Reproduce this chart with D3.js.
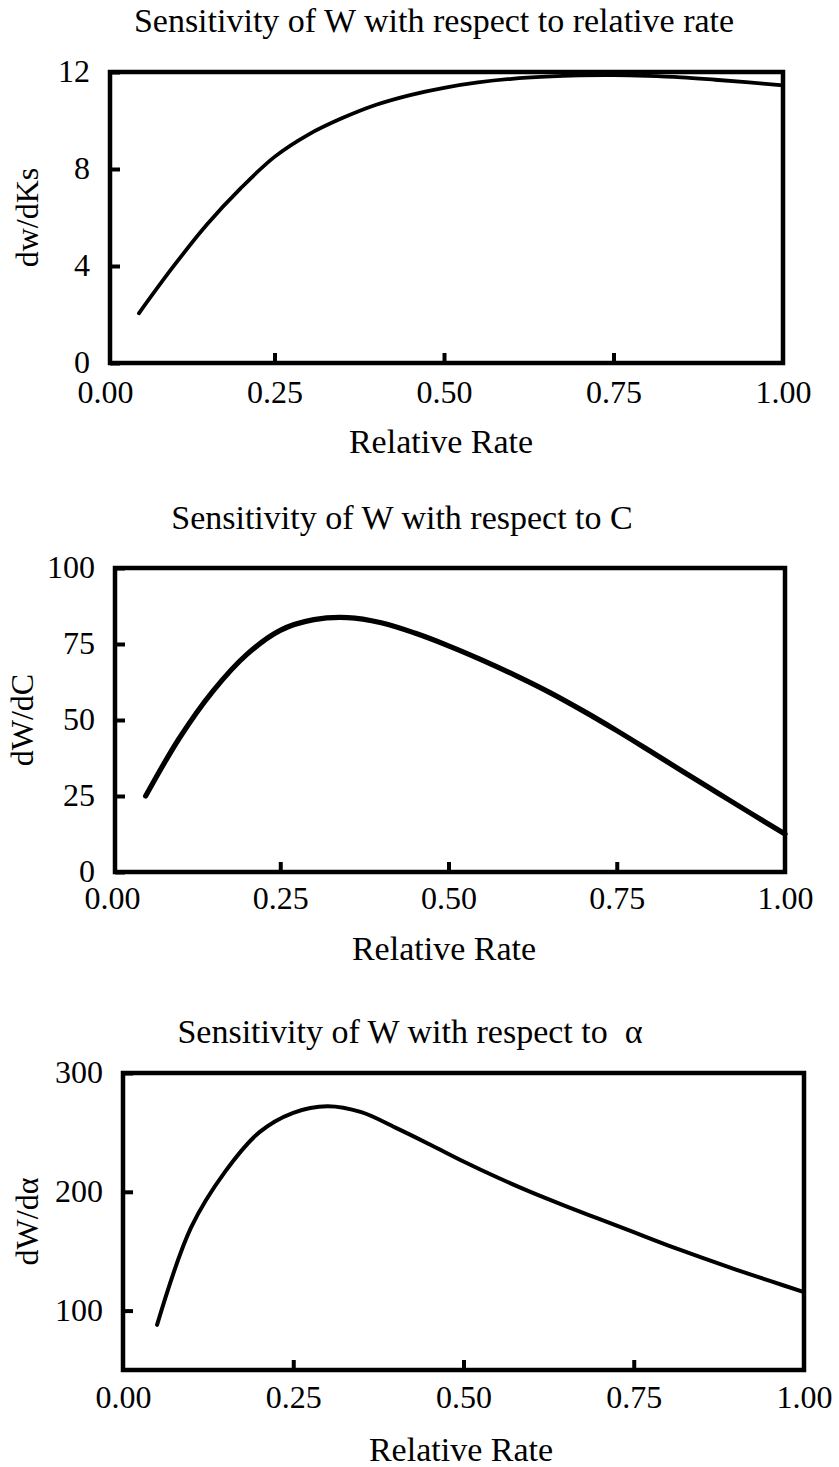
<!DOCTYPE html>
<html>
<head>
<meta charset="utf-8">
<script src="https://cdn.jsdelivr.net/npm/d3@7"></script>
<style>
  html, body { margin: 0; padding: 0; background: #fff; }
  svg { display: block; }
  text { font-family: "Liberation Serif", "Times New Roman", serif; fill: #000; }
</style>
</head>
<body>
<svg id="chart" width="839" height="1467"></svg>
<script>
// Relative rate values shared by all three sensitivity curves
const rate = [0.05, 0.10, 0.15, 0.20, 0.25, 0.30, 0.35, 0.40, 0.45, 0.50,
              0.55, 0.60, 0.65, 0.70, 0.75, 0.80, 0.85, 0.90, 0.95, 1.00];

// dw/dKs
const dwdKs = [2.05, 3.95, 5.7, 7.2, 8.5, 9.42, 10.1, 10.65, 11.05, 11.35,
               11.57, 11.72, 11.81, 11.86, 11.87, 11.84, 11.78, 11.68, 11.57, 11.45];

// dW/dC
const dWdC = [25, 44, 59.5, 71.5, 79.5, 83, 83.7, 82, 78.6, 74.4,
              69.7, 64.6, 59.1, 53.0, 46.5, 39.7, 32.8, 26, 19.2, 12.5];

// dW/dα
const dWdAlpha = [88, 170, 217, 250, 266.5, 272, 267, 254, 240, 225.5,
                  212, 199.5, 188, 177, 166, 155, 144.5, 134.5, 125, 115.5];

const xTicks = [0, 0.25, 0.5, 0.75, 1];
const xTickLabels = ["0.00", "0.25", "0.50", "0.75", "1.00"];

const yTicksKs = [0, 4, 8, 12];
const yTicksC = [0, 25, 50, 75, 100];
const yTicksAlpha = [100, 200, 300];

const titles = [
  "Sensitivity of W with respect to relative rate",
  "Sensitivity of W with respect to C",
  "Sensitivity of W with respect to \u00a0\u03b1"
];
const yLabels = ["dw/dKs", "dW/dC", "dW/d\u03b1"];
const xLabel = "Relative Rate";

// Layout of each panel (pixels)
const panels = [
  { values: dwdKs, yDomain: [0, 12], yTicks: yTicksKs, title: titles[0], yLabel: yLabels[0],
    x0: 105, x1: 783, frameLeft: 110, top: 72, bottom: 363,
    titleX: 434, titleY: 32, xLabelX: 441, xLabelY: 453, yLabelX: 27, tickPad: 17, lw: 3.8 },
  { values: dWdC, yDomain: [0, 100], yTicks: yTicksC, title: titles[1], yLabel: yLabels[1],
    x0: 112, x1: 785, frameLeft: 115, top: 568, bottom: 872,
    titleX: 402, titleY: 529, xLabelX: 444, xLabelY: 960, yLabelX: 22, tickPad: 14, lw: 5.2 },
  { values: dWdAlpha, yDomain: [50, 300], yTicks: yTicksAlpha, title: titles[2], yLabel: yLabels[2],
    x0: 123, x1: 804, frameLeft: 123, top: 1073, bottom: 1370,
    titleX: 410, titleY: 1043, xLabelX: 461, xLabelY: 1461, yLabelX: 27, tickPad: 15, lw: 4 }
];

const svg = d3.select("#chart");

panels.forEach(p => {
  const g = svg.append("g");
  const x = d3.scaleLinear().domain([0, 1]).range([p.x0, p.x1]);
  const y = d3.scaleLinear().domain(p.yDomain).range([p.bottom, p.top]);

  // Title
  g.append("text")
    .attr("x", p.titleX).attr("y", p.titleY)
    .attr("text-anchor", "middle")
    .style("font-size", "34px")
    .text(p.title);

  // Left axis: inward ticks, labels to the left of the frame
  const yAxis = d3.axisLeft(y).tickValues(p.yTicks).tickSize(-10).tickPadding(20)
    .tickFormat(d3.format("d"));
  const ya = g.append("g").attr("transform", `translate(${p.frameLeft},0)`).call(yAxis);
  ya.select(".domain").remove();
  ya.selectAll(".tick line").attr("stroke", "#000").attr("stroke-width", 4);
  ya.selectAll(".tick text").style("font-size", "32px").attr("dy", "0.3em");

  // Bottom axis
  const xAxis = d3.axisBottom(x).tickValues(xTicks).tickSize(-10).tickPadding(p.tickPad)
    .tickFormat((d, i) => xTickLabels[i]);
  const xa = g.append("g").attr("transform", `translate(0,${p.bottom})`).call(xAxis);
  xa.select(".domain").remove();
  xa.selectAll(".tick line")
    .attr("stroke", "#000").attr("stroke-width", 4)
    .attr("opacity", d => (d === 0 || d === 1) ? 0 : 1);
  xa.selectAll(".tick text").style("font-size", "32px");

  // Frame
  g.append("rect")
    .attr("x", p.frameLeft).attr("y", p.top)
    .attr("width", x(1) - p.frameLeft).attr("height", p.bottom - p.top)
    .attr("fill", "none").attr("stroke", "#000").attr("stroke-width", 4.5);

  // Curve
  const line = d3.line()
    .x((d, i) => x(rate[i]))
    .y(d => y(d))
    .curve(d3.curveCatmullRom.alpha(0.5));
  g.append("path")
    .datum(p.values)
    .attr("d", line)
    .attr("fill", "none")
    .attr("stroke", "#000")
    .attr("stroke-width", p.lw)
    .attr("stroke-linecap", "round")
    .attr("stroke-linejoin", "round");

  // Axis titles
  g.append("text")
    .attr("x", p.xLabelX).attr("y", p.xLabelY)
    .attr("text-anchor", "middle")
    .style("font-size", "34px")
    .text(xLabel);

  const cy = (p.top + p.bottom) / 2;
  g.append("text")
    .attr("transform", `translate(${p.yLabelX},${cy}) rotate(-90)`)
    .attr("text-anchor", "middle")
    .attr("dy", "0.35em")
    .style("font-size", "32px")
    .text(p.yLabel);
});
</script>
</body>
</html>
